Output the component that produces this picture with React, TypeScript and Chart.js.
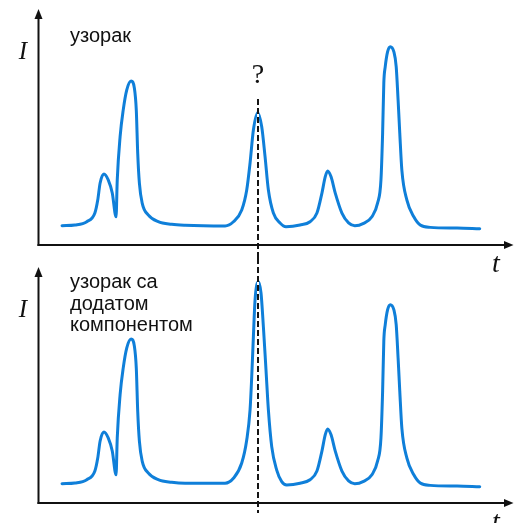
import React, { useEffect, useRef } from "react";
import { Chart, registerables } from "chart.js";

Chart.register(...registerables);

// Retention time (arbitrary units) and detector intensity
const sampleTime = [
  1.01, 1.55, 2.05, 2.39, 2.51, 2.61, 2.77, 2.95, 3.12, 3.28, 3.33, 3.45, 3.58, 3.73, 3.91,
  4.05, 4.13, 4.19, 4.26, 4.38, 4.63, 5.05, 5.62, 6.18, 7.86, 8.21, 8.56, 8.77, 8.91, 9.05,
  9.23, 9.4, 9.54, 9.68, 9.89, 10.17, 10.42, 11.01, 11.43, 11.72, 11.93, 12.07, 12.17, 12.31,
  12.49, 12.77, 13.05, 13.31, 13.68, 14.03, 14.27, 14.41, 14.48, 14.53, 14.59, 14.69, 14.8,
  14.95, 15.05, 15.13, 15.2, 15.29, 15.5, 15.79, 16.06, 16.48, 17.61, 18.56,
];
const sampleIntensity = [
  8.2, 8.5, 9.9, 13.6, 19.1, 26.4, 30.2, 27.7, 22.1, 12.0, 27.7, 46.1, 57.4, 66.0, 69.8,
  66.7, 57.4, 39.0, 26.3, 17.7, 12.8, 9.9, 8.8, 8.4, 8.1, 9.9, 14.9, 23.4, 34.9, 48.9,
  56.3, 50.3, 37.6, 23.4, 13.6, 9.4, 7.8, 8.5, 9.9, 13.6, 22.1, 29.1, 31.5, 29.1,
  22.1, 13.6, 9.4, 8.2, 9.2, 12.0, 17.9, 27.7, 47.7, 68.9, 75.9, 82.3, 84.4,
  82.3, 75.9, 61.7, 47.7, 31.6, 19.1, 12.0, 8.5, 7.5, 7.2, 6.9,
];

const spikedTime = [
  1.01, 1.55, 2.05, 2.39, 2.51, 2.61, 2.77, 2.95, 3.12, 3.28, 3.33, 3.45, 3.58, 3.73, 3.91,
  4.05, 4.13, 4.19, 4.26, 4.38, 4.63, 5.05, 5.62, 6.18, 7.86, 8.21, 8.56, 8.77, 8.91, 8.98,
  9.05, 9.12, 9.26, 9.37, 9.47, 9.58, 9.68, 9.82, 10.03, 10.24, 10.45, 11.01, 11.43, 11.72,
  11.93, 12.07, 12.17, 12.31, 12.49, 12.77, 13.05, 13.31, 13.68, 14.03, 14.27, 14.41, 14.48,
  14.53, 14.59, 14.69, 14.8, 14.95, 15.05, 15.13, 15.2, 15.29, 15.5, 15.79, 16.06, 16.48,
  17.61, 18.56,
];
const spikedIntensity = [
  8.2, 8.5, 9.9, 13.6, 19.1, 26.4, 30.2, 27.7, 22.1, 12.0, 27.7, 46.1, 57.4, 66.0, 69.8,
  66.7, 57.4, 39.0, 26.3, 17.7, 12.8, 9.9, 8.8, 8.4, 8.4, 10.5, 17.0, 26.8, 39.6, 53.7,
  70.8, 86.4, 94.2, 89.4, 75.0, 56.6, 39.6, 24.0, 14.0, 9.1, 7.7, 8.4, 9.9, 13.6,
  22.1, 29.1, 31.5, 29.1, 22.1, 13.6, 9.4, 8.2, 9.2, 12.0, 17.9, 27.7, 47.7,
  68.9, 75.9, 82.3, 84.4, 82.3, 75.9, 61.7, 47.7, 31.6, 19.1, 12.0, 8.5, 7.5,
  7.2, 6.9,
];

const markerTime = 9.24;
const timeRange = [0, 20];
const intensityRange = [0, 100];
const topLabel = ["узорак"];
const bottomLabel = ["узорак са", "додатом", "компонентом"];
const yAxisLabel = "I";
const xAxisLabel = "t";
const questionLabel = "?";

const LINE_COLOR = "#0f7fd9";
const INK = "#111111";

type PanelCfg = {
  times: number[];
  values: number[];
  lines: string[];
  top: number;
  height: number;
  padTop: number;
  padBottom: number;
  labelBaseline: number;
  question: boolean;
  dashFrom: number;
  dashTo: number;
};

function makeDecor(cfg: PanelCfg) {
  return {
    id: "decor",
    afterDatasetsDraw(chart: any) {
      const { ctx, chartArea } = chart;
      const { left, right, top, bottom } = chartArea;
      const mx = Math.round(chart.scales.x.getPixelForValue(markerTime));
      ctx.save();
      // dashed marker line
      ctx.lineWidth = 2;
      ctx.strokeStyle = "#ffffff";
      ctx.beginPath();
      ctx.moveTo(mx, cfg.dashFrom);
      ctx.lineTo(mx, cfg.dashTo);
      ctx.stroke();
      ctx.setLineDash([6, 3]);
      ctx.strokeStyle = "#151515";
      ctx.beginPath();
      ctx.moveTo(mx, cfg.dashFrom);
      ctx.lineTo(mx, cfg.dashTo);
      ctx.stroke();
      ctx.setLineDash([]);

      // axes with arrows
      ctx.strokeStyle = INK;
      ctx.fillStyle = INK;
      ctx.lineWidth = 2;
      const ax = left + 0.5;
      ctx.beginPath();
      ctx.moveTo(ax, bottom + 1);
      ctx.lineTo(ax, top + 6);
      ctx.stroke();
      ctx.beginPath();
      ctx.moveTo(ax, top - 1);
      ctx.lineTo(ax - 4, top + 9);
      ctx.lineTo(ax + 4, top + 9);
      ctx.closePath();
      ctx.fill();
      const ay = bottom;
      ctx.beginPath();
      ctx.moveTo(left - 0.5, ay);
      ctx.lineTo(right - 6, ay);
      ctx.stroke();
      ctx.beginPath();
      ctx.moveTo(right - 0.5, ay);
      ctx.lineTo(right - 10, ay - 4);
      ctx.lineTo(right - 10, ay + 4);
      ctx.closePath();
      ctx.fill();

      // texts
      ctx.textBaseline = "alphabetic";
      ctx.textAlign = "center";
      ctx.font = 'italic 25px "Liberation Serif", "Times New Roman", serif';
      ctx.fillText(yAxisLabel, 23, top + 49);
      ctx.font = 'italic 28px "Liberation Serif", "Times New Roman", serif';
      ctx.fillText(xAxisLabel, 496, bottom + 27);
      ctx.textAlign = "left";
      ctx.font = '20px "Liberation Sans", Arial, sans-serif';
      cfg.lines.forEach((l, i) => ctx.fillText(l, 70, cfg.labelBaseline + i * 21.5));
      if (cfg.question) {
        ctx.textAlign = "center";
        ctx.font = '28px "Liberation Serif", "Times New Roman", serif';
        ctx.fillText(questionLabel, mx, 83);
      }
      ctx.restore();
    },
  };
}

function Panel(cfg: PanelCfg) {
  const ref = useRef<HTMLCanvasElement | null>(null);
  useEffect(() => {
    if (!ref.current) return;
    const chart = new Chart(ref.current, {
      type: "line",
      data: {
        datasets: [
          {
            data: cfg.times.map((t, i) => ({ x: t, y: cfg.values[i] })),
            borderColor: LINE_COLOR,
            borderWidth: 3,
            pointRadius: 0,
            fill: false,
            cubicInterpolationMode: "monotone",
            borderCapStyle: "round",
            borderJoinStyle: "round",
          } as any,
        ],
      },
      options: {
        animation: false,
        responsive: false,
        maintainAspectRatio: false,
        events: [],
        layout: { padding: { left: 38, right: 0, top: cfg.padTop, bottom: cfg.padBottom } },
        scales: {
          x: { type: "linear", min: timeRange[0], max: timeRange[1], display: false },
          y: { type: "linear", min: intensityRange[0], max: intensityRange[1], display: false },
        },
        plugins: { legend: { display: false }, tooltip: { enabled: false } },
      },
      plugins: [makeDecor(cfg) as any],
    });
    return () => chart.destroy();
  }, []);
  return (
    <canvas
      ref={ref}
      width={514}
      height={cfg.height}
      style={{ display: "block", position: "absolute", left: 0, top: cfg.top, width: 514, height: cfg.height }}
    />
  );
}

export default function App() {
  return (
    <div style={{ position: "absolute", left: 0, top: 0, width: 514, height: 523, background: "#fff", overflow: "hidden" }}>
      <Panel
        times={sampleTime}
        values={sampleIntensity}
        lines={topLabel}
        top={0}
        height={280}
        padTop={10}
        padBottom={35}
        labelBaseline={42}
        question={true}
        dashFrom={99}
        dashTo={258}
      />
      <Panel
        times={spikedTime}
        values={spikedIntensity}
        lines={bottomLabel}
        top={258}
        height={265}
        padTop={10}
        padBottom={20}
        labelBaseline={30}
        question={false}
        dashFrom={0}
        dashTo={255}
      />
    </div>
  );
}
